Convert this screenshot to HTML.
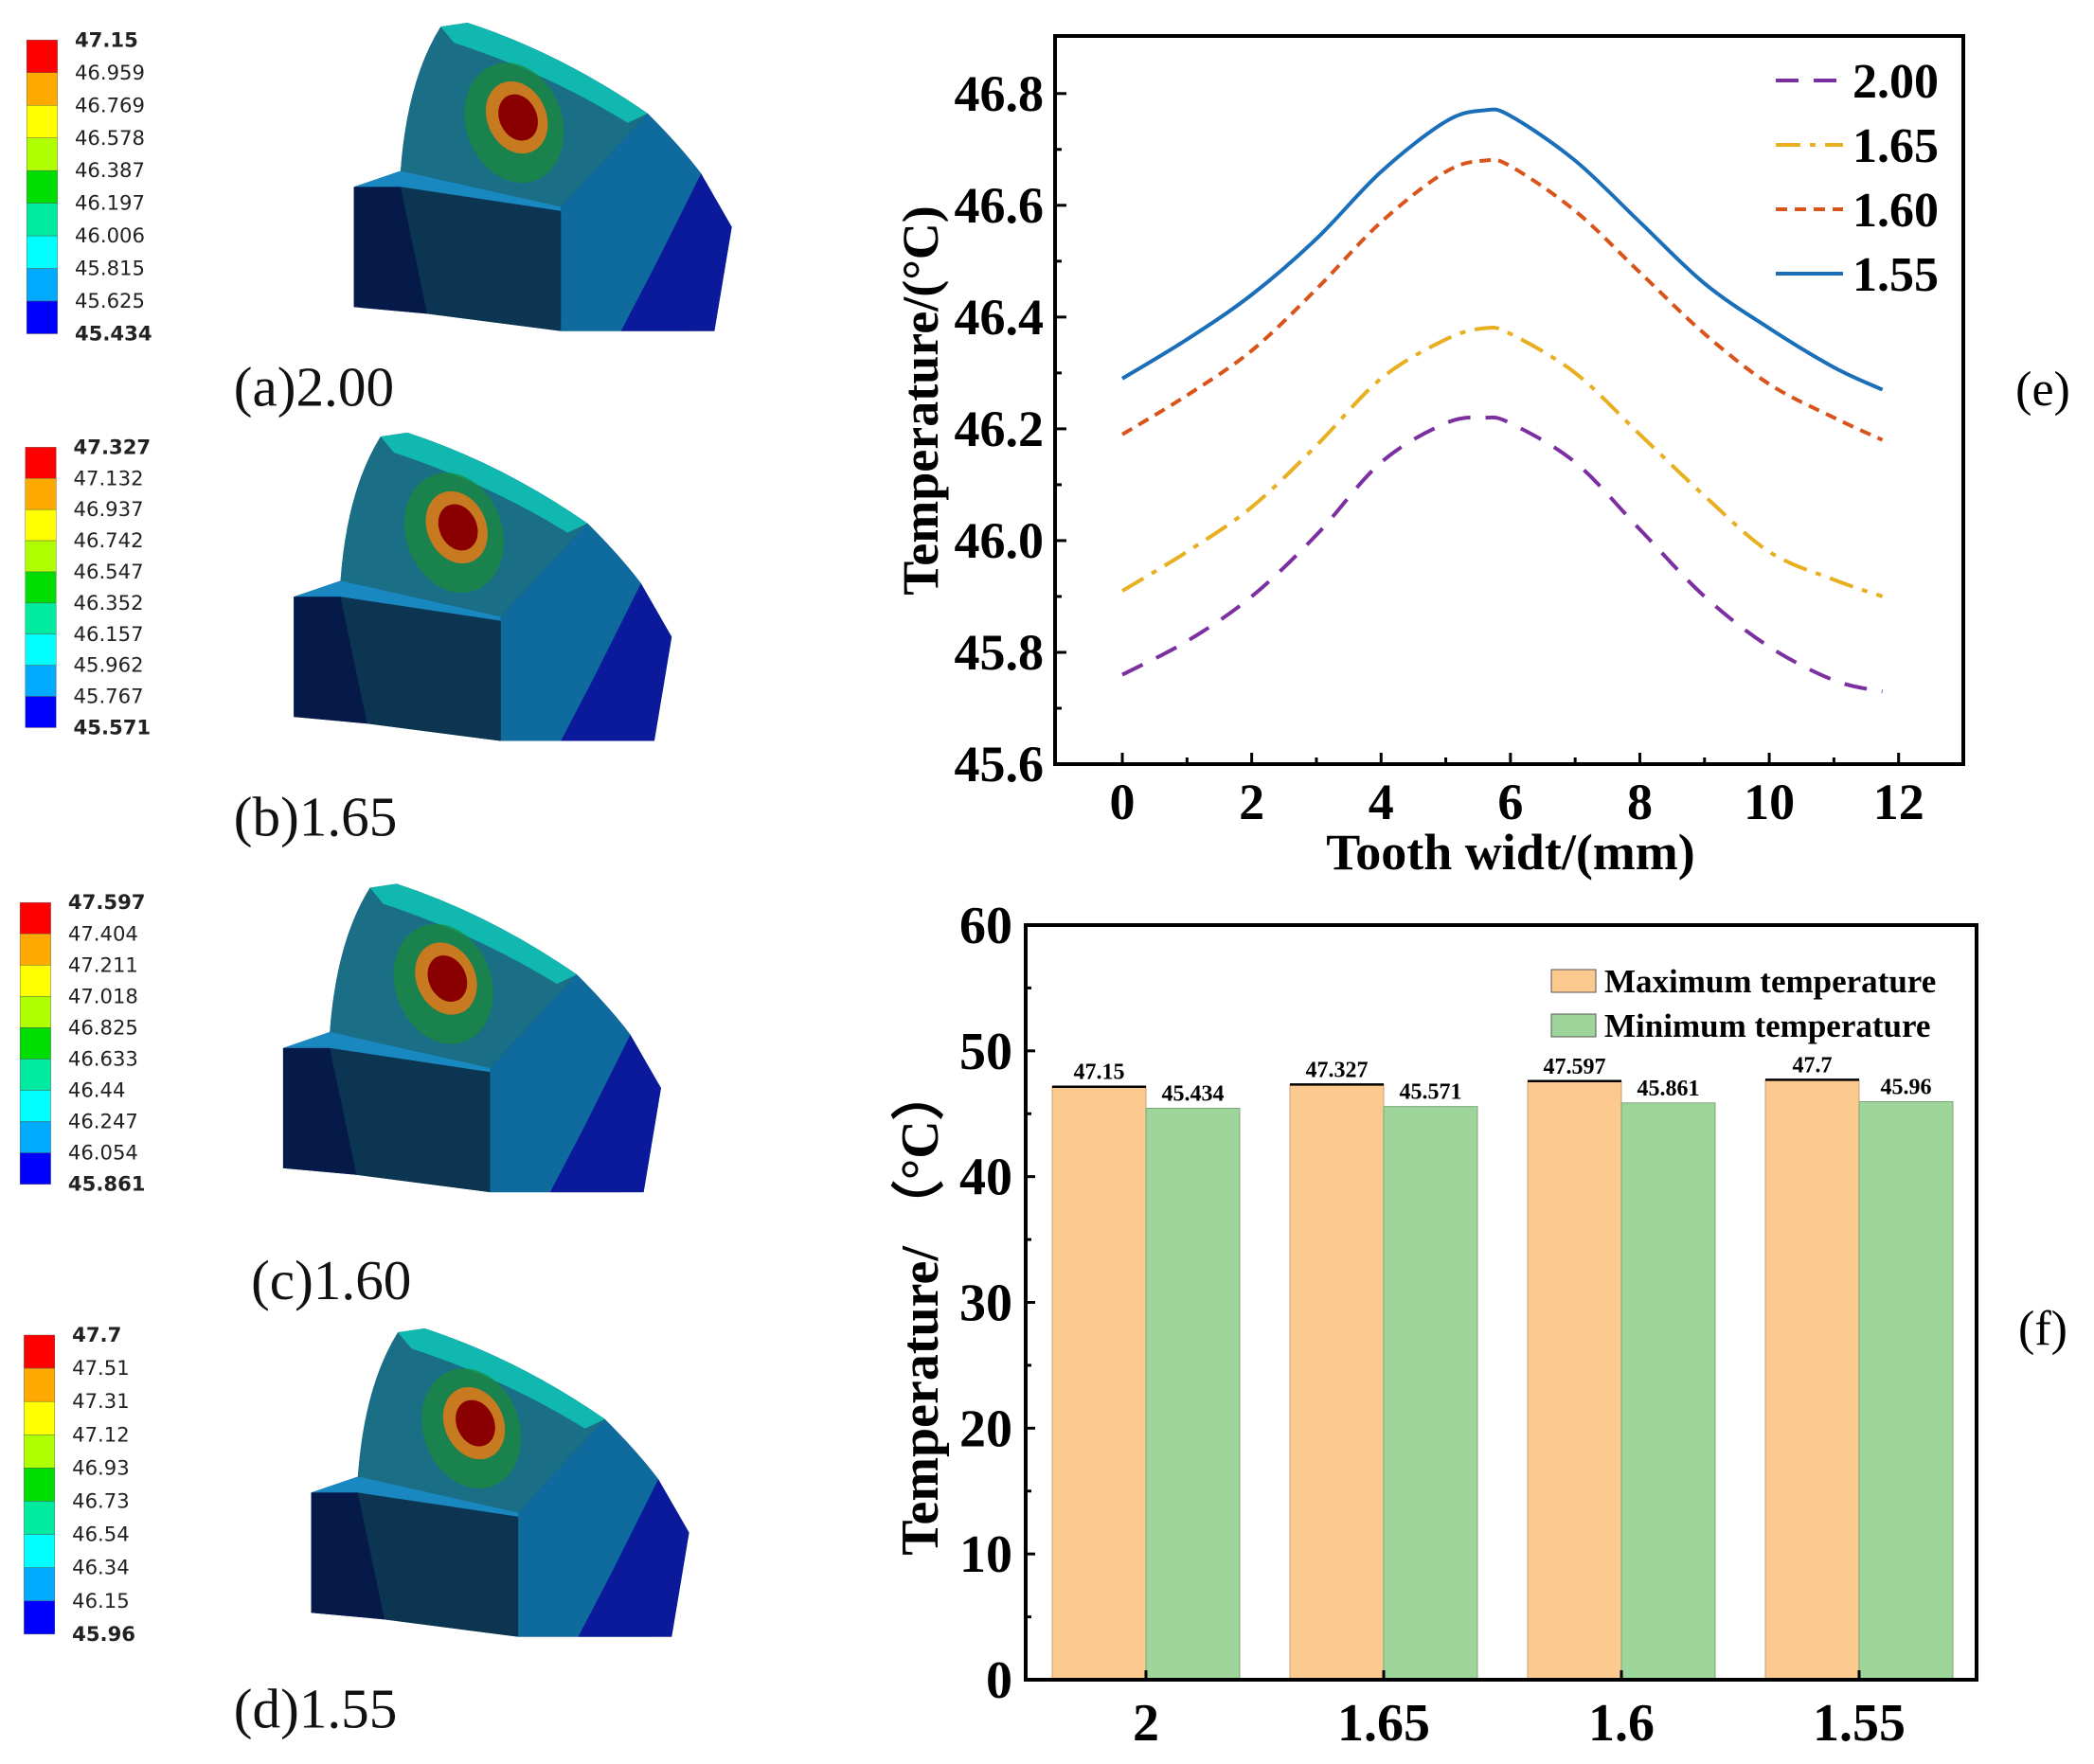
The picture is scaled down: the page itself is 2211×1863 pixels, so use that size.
<!DOCTYPE html>
<html><head><meta charset="utf-8">
<style>
html,body{margin:0;padding:0;background:#fff;}
svg{display:block;}
text{font-family:"Liberation Serif",serif;}
.sans{font-family:"DejaVu Sans","Liberation Sans",sans-serif;}
</style></head>
<body>
<svg id="fig" width="2211" height="1863" viewBox="0 0 2211 1863" xmlns="http://www.w3.org/2000/svg">
  <g id="left" transform="scale(1.41)"></g>
  <g id="linechart"></g>
  <g id="barchart"></g>
</svg>
<script>
// ===== Line chart data =====
const lineX = [0,1,2,3,4,5,5.6,6,7,8,9,10,11,11.75];
const s155 = [46.29,46.36,46.44,46.54,46.66,46.75,46.77,46.76,46.68,46.57,46.46,46.38,46.31,46.27];
const s160 = [46.19,46.26,46.34,46.45,46.57,46.66,46.68,46.67,46.59,46.48,46.37,46.28,46.22,46.18];
const s165 = [45.91,45.98,46.06,46.17,46.29,46.36,46.38,46.37,46.30,46.19,46.08,45.98,45.93,45.90];
const s200 = [45.76,45.82,45.90,46.01,46.14,46.21,46.22,46.21,46.14,46.02,45.90,45.81,45.75,45.73];
const seriesNames = ["2.00","1.65","1.60","1.55"];
const yTicksE = [45.6,45.8,46.0,46.2,46.4,46.6,46.8];
const yTickLabelsE = ["45.6","45.8","46.0","46.2","46.4","46.6","46.8"];
const xTicksE = [0,2,4,6,8,10,12];
const xTickLabelsE = ["0","2","4","6","8","10","12"];
// ===== Bar chart data =====
const barCats = ["2","1.65","1.6","1.55"];
const maxTemps = [47.15,47.327,47.597,47.7];
const minTemps = [45.434,45.571,45.861,45.96];
const maxLabels = ["47.15","47.327","47.597","47.7"];
const minLabels = ["45.434","45.571","45.861","45.96"];
const yTicksF = [0,10,20,30,40,50,60];
const yTickLabelsF = ["0","10","20","30","40","50","60"];
// ===== Contour legends =====
const legA = ["47.15","46.959","46.769","46.578","46.387","46.197","46.006","45.815","45.625","45.434"];
const legB = ["47.327","47.132","46.937","46.742","46.547","46.352","46.157","45.962","45.767","45.571"];
const legC = ["47.597","47.404","47.211","47.018","46.825","46.633","46.44","46.247","46.054","45.861"];
const legD = ["47.7","47.51","47.31","47.12","46.93","46.73","46.54","46.34","46.15","45.96"];

const NS="http://www.w3.org/2000/svg";
function mk(tag,attrs,parent){const e=document.createElementNS(NS,tag);for(const k in attrs)e.setAttribute(k,attrs[k]);if(parent)parent.appendChild(e);return e;}

// ===== Left panels =====
const left=document.getElementById('left');
const bandColors=["#ff0000","#ffaa00","#ffff00","#b0ff00","#00dd00","#00eaa0","#00ffff","#00aaff","#0000ff"];
const panels=[
 {leg:legA,bx:20,by:30,bh:220,cap:"(a)2.00",cx:175,cy:304,dx:0,dy:0},
 {leg:legB,bx:19,by:335,bh:210,cap:"(b)1.65",cx:175,cy:626,dx:-45,dy:307},
 {leg:legC,bx:15,by:676,bh:211,cap:"(c)1.60",cx:188,cy:973,dx:-53,dy:645},
 {leg:legD,bx:18,by:1000,bh:224,cap:"(d)1.55",cx:175,cy:1294,dx:-32,dy:978}
];
panels.forEach((p,i)=>{
  const g=mk('g',{},left);
  
  
  const bh=p.bh/9;
  bandColors.forEach((c,j)=>{mk('rect',{x:p.bx,y:p.by+j*bh,width:23,height:bh,fill:c,stroke:'#555','stroke-width':0.3},g);});
  p.leg.forEach((t,j)=>{
    const tx=mk('text',{x:p.bx+36,y:p.by+j*(p.bh/9)+5,'font-size':15,'class':'sans',fill:'#222','font-weight':(j==0||j==9)?'bold':'normal'},g);
    tx.textContent=t;
    
    
  });
  const s=mk('g',{transform:`translate(${p.dx},${p.dy})`},g);
  
  
  mk('path',{d:"M265,140 L300,128 Q305,60 330,20 L350,17 Q420,40 485,85 Q510,110 525,130 L548,170 L535,248 L420,248 L320,235 L265,230 Z",fill:'#0d3a66'},s);
  mk('path',{d:"M300,128 Q305,60 330,20 L350,17 Q420,40 485,85 L420,155 L300,135 Z",fill:'#1a6e86'},s);
  mk('path',{d:"M330,20 L350,17 Q420,40 485,85 L470,92 Q410,55 340,32 Z",fill:'#10b8b0'},s);
  mk('path',{d:"M420,155 L485,85 Q510,110 525,130 L520,248 L420,248 Z",fill:'#0f6a9e'},s);
  mk('polygon',{points:"525,130 548,170 535,248 465,248 490,200",fill:'#0a1a9a'},s);
  mk('polygon',{points:"265,140 300,128 420,155 420,160 300,140",fill:'#1a88c0'},s);
  mk('polygon',{points:"265,140 300,140 320,235 265,230",fill:'#061a4a'},s);
  mk('polygon',{points:"300,140 420,158 420,248 320,235",fill:'#0b3550'},s);
  mk('ellipse',{cx:385,cy:92,rx:36,ry:46,fill:'#1a8a3a',transform:'rotate(-20 385 92)',opacity:0.75},s);
  mk('ellipse',{cx:387,cy:88,rx:22,ry:28,fill:'#c87a20',transform:'rotate(-25 387 88)'},s);
  mk('ellipse',{cx:388,cy:88,rx:14,ry:18,fill:'#8a0000',transform:'rotate(-25 388 88)'},s);
  const cap=mk('text',{x:p.cx,y:p.cy,'font-size':42,fill:'#111'},g);
  cap.textContent=p.cap;
  
  
});

// ===== Line chart =====
const lc=document.getElementById('linechart');
const L={l:1114,r:2073,t:38,b:807};
const xminE=-1.04,xmaxE=13.0,yminE=45.6,ymaxE=46.903;
const xE=v=>L.l+(v-xminE)/(xmaxE-xminE)*(L.r-L.l);
const yE=v=>L.b-(v-yminE)/(ymaxE-yminE)*(L.b-L.t);
const fr=mk('rect',{x:L.l,y:L.t,width:L.r-L.l,height:L.b-L.t,fill:'none',stroke:'#000','stroke-width':4},lc);


yTicksE.forEach((v,i)=>{
  mk('line',{x1:L.l,x2:L.l+12,y1:yE(v),y2:yE(v),stroke:'#000','stroke-width':3},lc);
  if(i<yTicksE.length-1) mk('line',{x1:L.l,x2:L.l+7,y1:yE(v+0.1),y2:yE(v+0.1),stroke:'#000','stroke-width':3},lc);
  const t=mk('text',{x:L.l-12,y:yE(v)+18,'text-anchor':'end','font-size':54,'font-weight':'bold'},lc);
  t.textContent=yTickLabelsE[i];
  
  
});
xTicksE.forEach((v,i)=>{
  mk('line',{x1:xE(v),x2:xE(v),y1:L.b,y2:L.b-12,stroke:'#000','stroke-width':3},lc);
  mk('line',{x1:xE(v+1),x2:xE(v+1),y1:L.b,y2:L.b-7,stroke:'#000','stroke-width':3},lc);
  const t=mk('text',{x:xE(v),y:L.b+58,'text-anchor':'middle','font-size':54,'font-weight':'bold'},lc);
  t.textContent=xTickLabelsE[i];
  
  
});
let xt=mk('text',{x:1595,y:918,'text-anchor':'middle','font-size':54,'font-weight':'bold'},lc);
xt.textContent="Tooth widt/(mm)";


let yt=mk('text',{x:0,y:0,'text-anchor':'middle','font-size':54,'font-weight':'bold',transform:'translate(990,423) rotate(-90)'},lc);
yt.textContent="Temperature/(°C)";


let el=mk('text',{x:2157,y:428,'text-anchor':'middle','font-size':52},lc);
el.textContent="(e)";



function smoothPath(xs,ys){
  const P=xs.map((x,i)=>[xE(x),yE(ys[i])]);
  let d=`M${P[0][0]},${P[0][1]}`;
  for(let i=0;i<P.length-1;i++){
    const p0=P[i-1]||P[i],p1=P[i],p2=P[i+1],p3=P[i+2]||P[i+1];
    const c1=[p1[0]+(p2[0]-p0[0])/6,p1[1]+(p2[1]-p0[1])/6];
    const c2=[p2[0]-(p3[0]-p1[0])/6,p2[1]-(p3[1]-p1[1])/6];
    d+=` C${c1[0]},${c1[1]} ${c2[0]},${c2[1]} ${p2[0]},${p2[1]}`;
  }
  return d;
}
const styles=[
  {data:s200,color:'#7b2fa0',dash:'24 16'},
  {data:s165,color:'#e8b020',dash:'26 10 6 10'},
  {data:s160,color:'#d9541a',dash:'12 8'},
  {data:s155,color:'#1a6fb8',dash:''}
];
styles.forEach((st,i)=>{
  const p=mk('path',{d:smoothPath(lineX,st.data),fill:'none',stroke:st.color,'stroke-width':4,'stroke-dasharray':st.dash},lc);
  
  
  const ly=85+i*68;
  mk('line',{x1:1875,x2:1946,y1:ly,y2:ly,stroke:st.color,'stroke-width':4,'stroke-dasharray':st.dash},lc);
  const t=mk('text',{x:1956,y:ly+18,'font-size':52,'font-weight':'bold'},lc);
  t.textContent=seriesNames[i];
  
  
});

// ===== Bar chart =====
const bc=document.getElementById('barchart');
const B={l:1083,r:2087,t:977,b:1774};
const yF=v=>B.b-v/60*(B.b-B.t);
const groupX=i=>1210+i*251;
const bw=99;
maxTemps.forEach((v,i)=>{
  const r=mk('rect',{x:groupX(i)-bw,y:yF(v),width:bw,height:B.b-yF(v),fill:'#fcc98f',stroke:'#c8a070','stroke-width':1},bc);
  
  
  mk('line',{x1:groupX(i)-bw,x2:groupX(i),y1:yF(v),y2:yF(v),stroke:'#000','stroke-width':2.5},bc);
  const t=mk('text',{x:groupX(i)-bw/2,y:yF(v)-8,'text-anchor':'middle','font-size':24,'font-weight':'bold'},bc);
  t.textContent=maxLabels[i];
  
  
});
minTemps.forEach((v,i)=>{
  const r=mk('rect',{x:groupX(i),y:yF(v),width:bw,height:B.b-yF(v),fill:'#9dd59a',stroke:'#7aa878','stroke-width':1},bc);
  
  
  const t=mk('text',{x:groupX(i)+bw/2,y:yF(v)-8,'text-anchor':'middle','font-size':24,'font-weight':'bold'},bc);
  t.textContent=minLabels[i];
  
  
});
const bf=mk('rect',{x:B.l,y:B.t,width:B.r-B.l,height:B.b-B.t,fill:'none',stroke:'#000','stroke-width':4},bc);


yTicksF.forEach((v,i)=>{
  mk('line',{x1:B.l,x2:B.l+10,y1:yF(v),y2:yF(v),stroke:'#000','stroke-width':3},bc);
  if(i<yTicksF.length-1) mk('line',{x1:B.l,x2:B.l+6,y1:yF(v+5),y2:yF(v+5),stroke:'#000','stroke-width':3},bc);
  const t=mk('text',{x:B.l-14,y:yF(v)+19,'text-anchor':'end','font-size':56,'font-weight':'bold'},bc);
  t.textContent=yTickLabelsF[i];
  
  
});
barCats.forEach((c,i)=>{
  mk('line',{x1:groupX(i),x2:groupX(i),y1:B.b,y2:B.b-10,stroke:'#000','stroke-width':3},bc);
  const t=mk('text',{x:groupX(i),y:1838,'text-anchor':'middle','font-size':56,'font-weight':'bold'},bc);
  t.textContent=c;
  
  
});
let yt2=mk('text',{x:0,y:0,'text-anchor':'middle','font-size':56,'font-weight':'bold',transform:'translate(990,1385) rotate(-90)'},bc);
yt2.textContent="Temperature/ （°C）";


let fl=mk('text',{x:2157,y:1420,'text-anchor':'middle','font-size':52},bc);
fl.textContent="(f)";


[["Maximum temperature",'#fcc98f'],["Minimum temperature",'#9dd59a']].forEach((e,i)=>{
  const y=1036+i*47;
  mk('rect',{x:1638,y:y-12,width:47,height:24,fill:e[1],stroke:'#555','stroke-width':1},bc);
  const t=mk('text',{x:1694,y:y+12,'font-size':35,'font-weight':'bold'},bc);
  t.textContent=e[0];
  
  
});
</script>
</body></html>
